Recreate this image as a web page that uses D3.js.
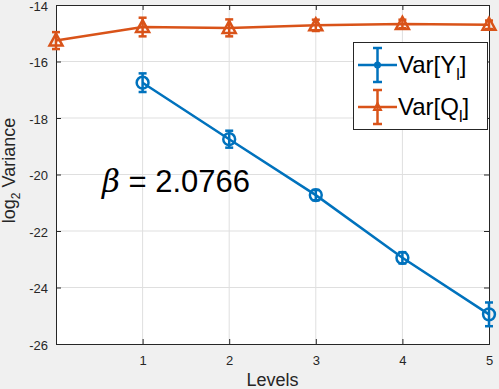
<!DOCTYPE html>
<html>
<head>
<meta charset="utf-8">
<script src="https://cdn.jsdelivr.net/npm/d3@7"></script>
<style>
  body { margin: 0; background: #f0f0f0; }
  text { font-family: Arial, "Liberation Sans", Helvetica, sans-serif; }
</style>
</head>
<body>
<script>
// chart values
var levelsY = [1, 2, 3, 4, 5];
var varY = [-16.75, -18.75, -20.73, -22.95, -24.95];
var errY = [0.33, 0.3, 0.18, 0.2, 0.42];

var levelsQ = [0, 1, 2, 3, 4, 5];
var varQ = [-15.26, -14.78, -14.81, -14.72, -14.67, -14.7];
var errQ = [0.3, 0.33, 0.3, 0.2, 0.15, 0.15];

var xTicks = [1, 2, 3, 4, 5];
var yTicks = [-26, -24, -22, -20, -18, -16, -14];
var betaText = "= 2.0766";

var width = 499, height = 389;
var margin = {left: 56, right: 10, top: 5, bottom: 45};
var blue = "#0072BD", orange = "#D95319";

var svg = d3.select("body").append("svg")
    .attr("width", width)
    .attr("height", height);

var x = d3.scaleLinear().domain([0, 5]).range([margin.left, width - margin.right]);
var y = d3.scaleLinear().domain([-26, -14]).range([height - margin.bottom, margin.top]);

// axes background
svg.append("rect")
    .attr("x", x(0)).attr("y", y(-14))
    .attr("width", x(5) - x(0)).attr("height", y(-26) - y(-14))
    .attr("fill", "white");

// grid
svg.selectAll(".gx").data(xTicks.slice(0, -1)).enter().append("line")
    .attr("x1", function(d) { return x(d); }).attr("x2", function(d) { return x(d); })
    .attr("y1", y(-26)).attr("y2", y(-14))
    .attr("stroke", "#dfdfdf").attr("stroke-width", 1);
svg.selectAll(".gy").data(yTicks.slice(1, -1)).enter().append("line")
    .attr("x1", x(0)).attr("x2", x(5))
    .attr("y1", function(d) { return y(d); }).attr("y2", function(d) { return y(d); })
    .attr("stroke", "#dfdfdf").attr("stroke-width", 1);

// axes, ticks pointing inward like matlab
var axisColor = "#262626";
var gx = svg.append("g").attr("transform", "translate(0," + y(-26) + ")")
    .call(d3.axisBottom(x).tickValues(xTicks).tickSize(-5).tickPadding(12).tickFormat(d3.format("d")));
var gxTop = svg.append("g").attr("transform", "translate(0," + y(-14) + ")")
    .call(d3.axisTop(x).tickValues(xTicks).tickSize(-5).tickFormat(""));
var gy = svg.append("g").attr("transform", "translate(" + x(0) + ",0)")
    .call(d3.axisLeft(y).tickValues(yTicks).tickSize(-5).tickPadding(8));
var gyRight = svg.append("g").attr("transform", "translate(" + x(5) + ",0)")
    .call(d3.axisRight(y).tickValues(yTicks).tickSize(-5).tickFormat(""));

[gx, gxTop, gy, gyRight].forEach(function(g) {
    g.select(".domain").attr("stroke", axisColor).attr("stroke-width", 1);
    g.selectAll(".tick line").attr("stroke", axisColor);
    g.selectAll(".tick text")
        .attr("fill", axisColor)
        .style("font-size", "13px")
        .style("font-family", "Arial, 'Liberation Sans', sans-serif");
});
gy.selectAll(".tick text")
    .attr("dy", "0.4em")
    .text(function(d) { return d3.format("d")(d).replace("−", "-"); });

// axis labels
svg.append("text")
    .attr("x", (x(0) + x(5)) / 2).attr("y", 386)
    .attr("text-anchor", "middle")
    .attr("fill", axisColor)
    .style("font-size", "18px")
    .text("Levels");

var ylab = svg.append("text")
    .attr("transform", "translate(15," + (y(-20) - 4) + ") rotate(-90)")
    .attr("text-anchor", "middle")
    .attr("fill", axisColor)
    .style("font-size", "18px");
ylab.append("tspan").text("log");
ylab.append("tspan").attr("dy", 5).style("font-size", "12px").text("2");
ylab.append("tspan").attr("dy", -5).text(" Variance");

// series
function drawSeries(xs, ys, es, color, marker) {
    var pts = xs.map(function(d, i) { return {x: d, y: ys[i], e: es[i]}; });
    var g = svg.append("g");
    g.append("path")
        .datum(pts)
        .attr("fill", "none")
        .attr("stroke", color)
        .attr("stroke-width", 2.5)
        .attr("d", d3.line().x(function(d) { return x(d.x); }).y(function(d) { return y(d.y); }));
    var eb = g.selectAll(".eb").data(pts).enter().append("g")
        .attr("stroke", color).attr("stroke-width", 2.5);
    eb.append("line")
        .attr("x1", function(d) { return x(d.x); }).attr("x2", function(d) { return x(d.x); })
        .attr("y1", function(d) { return y(d.y - d.e); }).attr("y2", function(d) { return y(d.y + d.e); });
    eb.append("line")
        .attr("x1", function(d) { return x(d.x) - 4; }).attr("x2", function(d) { return x(d.x) + 4; })
        .attr("y1", function(d) { return y(d.y - d.e); }).attr("y2", function(d) { return y(d.y - d.e); });
    eb.append("line")
        .attr("x1", function(d) { return x(d.x) - 4; }).attr("x2", function(d) { return x(d.x) + 4; })
        .attr("y1", function(d) { return y(d.y + d.e); }).attr("y2", function(d) { return y(d.y + d.e); });
    g.selectAll(".mk").data(pts).enter().append("path")
        .attr("transform", function(d) { return "translate(" + x(d.x) + "," + y(d.y) + ")"; })
        .attr("d", marker)
        .attr("fill", "none")
        .attr("stroke", color)
        .attr("stroke-width", 2.5);
}

var circleMarker = d3.symbol().type(d3.symbolCircle).size(110)();
var triMarker = "M0,-7L6.5,5L-6.5,5Z";

drawSeries(levelsY, varY, errY, blue, circleMarker);
drawSeries(levelsQ, varQ, errQ, orange, triMarker);

// beta annotation
var beta = svg.append("text")
    .attr("x", 102).attr("y", 192)
    .attr("fill", "black")
    .style("font-size", "31px");
beta.append("tspan").style("font-family", "'DejaVu Serif', serif").style("font-style", "italic").text("β");
beta.append("tspan").text(" " + betaText);

// legend
var lg = svg.append("g");
lg.append("rect")
    .attr("x", 353.5).attr("y", 42.5).attr("width", 134).attr("height", 87)
    .attr("fill", "white").attr("stroke", axisColor).attr("stroke-width", 1);

var legendItems = [
    {name: "Y", color: blue, marker: d3.symbol().type(d3.symbolCircle).size(20)(), cy: 65},
    {name: "Q", color: orange, marker: "M0,-4L3.5,3L-3.5,3Z", cy: 107}
];
var li = lg.selectAll(".li").data(legendItems).enter().append("g")
    .attr("transform", function(d) { return "translate(0," + d.cy + ")"; });
li.append("line").attr("x1", 358).attr("x2", 397).attr("y1", 0).attr("y2", 0)
    .attr("stroke", function(d) { return d.color; }).attr("stroke-width", 2.5);
li.append("line").attr("x1", 377.5).attr("x2", 377.5).attr("y1", -17).attr("y2", 17)
    .attr("stroke", function(d) { return d.color; }).attr("stroke-width", 2.5);
li.append("line").attr("x1", 373).attr("x2", 382).attr("y1", -17).attr("y2", -17)
    .attr("stroke", function(d) { return d.color; }).attr("stroke-width", 2.5);
li.append("line").attr("x1", 373).attr("x2", 382).attr("y1", 17).attr("y2", 17)
    .attr("stroke", function(d) { return d.color; }).attr("stroke-width", 2.5);
li.append("path").attr("transform", "translate(377.5,0)")
    .attr("d", function(d) { return d.marker; })
    .attr("fill", "none")
    .attr("stroke", function(d) { return d.color; }).attr("stroke-width", 2);
var lt = li.append("text").attr("x", 398).attr("y", 8)
    .attr("fill", "black").style("font-size", "24px");
lt.append("tspan").text(function(d) { return "Var[" + d.name; });
lt.append("tspan").attr("dy", 7).style("font-size", "16px").text("l");
lt.append("tspan").attr("dy", -7).text("]");
</script>
</body>
</html>
